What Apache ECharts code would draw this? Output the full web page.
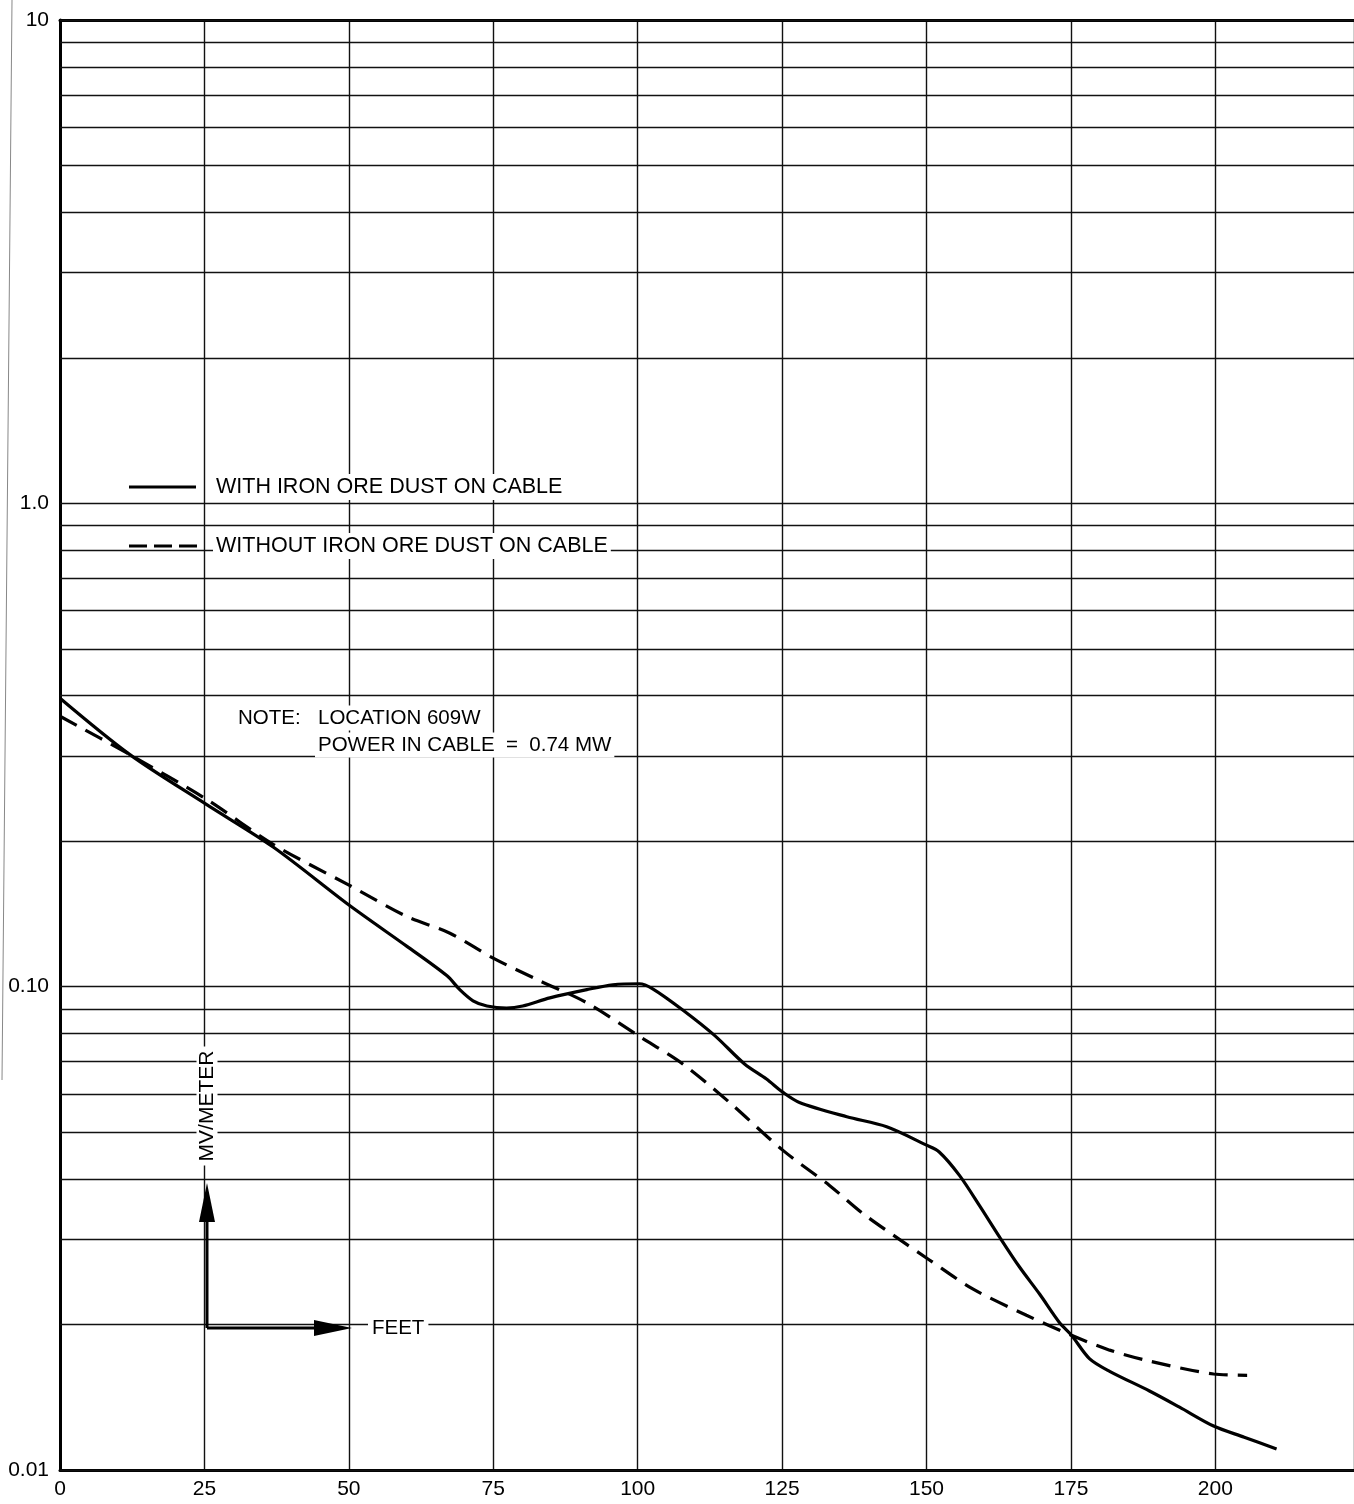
<!DOCTYPE html>
<html>
<head>
<meta charset="utf-8">
<script src="https://cdn.jsdelivr.net/npm/echarts@6.0.0/dist/echarts.min.js"></script>
<style>
  html, body { margin: 0; padding: 0; background: #fff; }
  #main { width: 1354px; height: 1504px; }
</style>
</head>
<body>
<div id="main"></div>
<script>
// x 轴刻度（英尺）
const xTicks = [0, 25, 50, 75, 100, 125, 150, 175, 200];
// y 轴十进位刻度标签
const yDecades = [0.01, 0.1, 1, 10];
const yDecadeLabels = ['0.01', '0.10', '1.0', '10'];
// 每个十进位里的次网格倍数
const minorSteps = [2, 3, 4, 5, 6, 7, 8, 9];

// 有铁矿粉尘
const withDustFeet = [0, 12.1, 25.4, 36.9, 50.2, 60.0, 67.0, 69.2, 71.5, 73.9, 77.3, 80.1, 84.8, 91.2, 95.7, 100.3, 102.6, 107.8, 113.3, 118.5, 122.3, 125.1, 128.0, 136.2, 143.1, 150.0, 152.2, 155.7, 159.2, 162.6, 166.1, 169.6, 173.0, 175.1, 178.2, 181.7, 188.6, 193.8, 199.7, 205.0, 210.6];
const withDustMv = [0.395, 0.302, 0.238, 0.1945, 0.147, 0.1213, 0.1053, 0.0986, 0.0935, 0.0912, 0.0903, 0.0912, 0.0948, 0.0986, 0.1009, 0.1014, 0.0990, 0.0895, 0.0793, 0.0692, 0.0644, 0.0605, 0.0576, 0.0538, 0.0513, 0.0470, 0.0455, 0.0407, 0.0352, 0.0304, 0.0263, 0.0231, 0.0202, 0.0190, 0.0170, 0.0160, 0.01457, 0.01349, 0.01233, 0.01169, 0.01105];

// 无铁矿粉尘
const withoutDustFeet = [0, 12.1, 25.4, 36.9, 50.2, 60.0, 67.5, 74.9, 83.0, 91.2, 100.3, 107.8, 115.9, 125.1, 133.2, 138.9, 145.3, 150.5, 158.0, 167.3, 175.1, 181.7, 188.6, 199.7, 205.5];
const withoutDustMv = [0.3626, 0.302, 0.244, 0.197, 0.1618, 0.1398, 0.129, 0.1147, 0.1029, 0.0926, 0.0789, 0.0692, 0.0576, 0.0459, 0.0388, 0.0340, 0.0300, 0.0272, 0.0237, 0.0209, 0.0190, 0.0177, 0.0168, 0.0158, 0.0157];

const FONT = '"Liberation Sans", Arial, Helvetica, sans-serif';

const pairs = (xs, ys) => xs.map((x, i) => [x, ys[i]]);

// 水平网格线：十进位 + 2..9
const gridLines = [];
yDecades.forEach((d) => {
  gridLines.push({ yAxis: d });
  if (d < 10) {
    minorSteps.forEach((m) => gridLines.push({ yAxis: +(d * m).toPrecision(3) }));
  }
});

// 图中文字
const textItem = (x, y, text, size, extra) => ({
  type: 'text',
  z: 10,
  x,
  y,
  style: Object.assign({
    text,
    font: size + 'px ' + FONT,
    fill: '#000',
    verticalAlign: 'middle',
    backgroundColor: '#fff',
    padding: [2, 3],
  }, extra || {}),
});

const chart = echarts.init(document.getElementById('main'), null, { renderer: 'canvas' });

const option = {
  animation: false,
  backgroundColor: '#fff',
  grid: { left: 60, right: 0, top: 20, bottom: 34, containLabel: false },
  xAxis: [
    {
      type: 'value',
      min: 0,
      max: 224,
      interval: 25,
      axisLine: { show: true, onZero: false, lineStyle: { color: '#000', width: 3 } },
      axisTick: { show: false },
      splitLine: { show: true, lineStyle: { color: '#111', width: 1.4 } },
      axisLabel: {
        color: '#000',
        fontSize: 21,
        fontFamily: FONT,
        margin: 9,
        showMaxLabel: false,
        formatter: (v) => (xTicks.includes(v) ? String(v) : ''),
      },
    },
    {
      type: 'value',
      position: 'top',
      min: 0,
      max: 224,
      axisLine: { show: true, onZero: false, lineStyle: { color: '#000', width: 3 } },
      axisTick: { show: false },
      axisLabel: { show: false },
      splitLine: { show: false },
    },
  ],
  yAxis: {
    type: 'log',
    logBase: 10,
    min: 0.01,
    max: 10,
    axisLine: { show: true, onZero: false, lineStyle: { color: '#000', width: 3 } },
    axisTick: { show: false },
    splitLine: { show: false },
    minorTick: { show: false },
    axisLabel: {
      color: '#000',
      fontSize: 21,
      fontFamily: FONT,
      margin: 11,
      formatter: (v) => {
        const i = yDecades.findIndex((d) => Math.abs(d - v) / d < 1e-6);
        return i >= 0 ? yDecadeLabels[i] : '';
      },
    },
  },
  series: [
    {
      // 网格线
      name: 'grid',
      type: 'line',
      z: 1,
      silent: true,
      data: [],
      symbol: 'none',
      markLine: {
        silent: true,
        symbol: ['none', 'none'],
        label: { show: false },
        lineStyle: { color: '#111', width: 1.4, type: 'solid' },
        emphasis: { disabled: true },
        data: gridLines,
      },
    },
    {
      name: 'WITH IRON ORE DUST ON CABLE',
      type: 'line',
      z: 5,
      data: pairs(withDustFeet, withDustMv),
      smooth: 0.3,
      symbol: 'none',
      lineStyle: { color: '#000', width: 3.2 },
    },
    {
      name: 'WITHOUT IRON ORE DUST ON CABLE',
      type: 'line',
      z: 5,
      data: pairs(withoutDustFeet, withoutDustMv),
      smooth: 0.3,
      symbol: 'none',
      lineStyle: { color: '#000', width: 3.2, type: [19, 10] },
    },
  ],
  graphic: [
    // 扫描边缘的竖线
    { type: 'line', z: 1, shape: { x1: 12, y1: 0, x2: 2, y2: 1080 }, style: { stroke: '#888', lineWidth: 1 } },
    // 图例
    { type: 'line', z: 10, shape: { x1: 129, y1: 487, x2: 196, y2: 487 }, style: { stroke: '#000', lineWidth: 3 } },
    { type: 'line', z: 10, shape: { x1: 129, y1: 546, x2: 199, y2: 546 }, style: { stroke: '#000', lineWidth: 3, lineDash: [18, 7] } },
    textItem(213, 487, 'WITH IRON ORE DUST ON CABLE', 21.5),
    textItem(213, 546, 'WITHOUT IRON ORE DUST ON CABLE', 21.5),
    // 注释
    textItem(235, 718, 'NOTE:', 20.5),
    textItem(315, 718, 'LOCATION 609W', 20.5),
    textItem(315, 745, 'POWER IN CABLE  =  0.74 MW', 20.5),
    // 坐标方向箭头
    { type: 'line', z: 10, shape: { x1: 207, y1: 1328, x2: 207, y2: 1212 }, style: { stroke: '#000', lineWidth: 3 } },
    { type: 'polygon', z: 10, shape: { points: [[207, 1183], [199, 1222], [215, 1222]] }, style: { fill: '#000' } },
    { type: 'line', z: 10, shape: { x1: 207, y1: 1328, x2: 322, y2: 1328 }, style: { stroke: '#000', lineWidth: 3 } },
    { type: 'polygon', z: 10, shape: { points: [[352, 1328], [314, 1320], [314, 1336]] }, style: { fill: '#000' } },
    textItem(207, 1106, 'MV/METER', 21, { align: 'center', padding: [0, 4] }),
    textItem(368, 1328, 'FEET', 20.5, { padding: [2, 4] }),
  ],
};
// MV/METER 竖排
option.graphic[option.graphic.length - 2].rotation = Math.PI / 2;

chart.setOption(option);
window.onresize = function () {
  chart.resize();
};
</script>
</body>
</html>
